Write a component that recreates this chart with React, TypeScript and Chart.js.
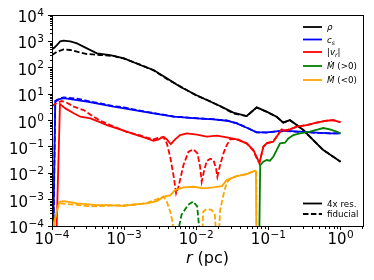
import React, { useEffect, useRef } from 'react';
import { Chart, registerables } from 'chart.js';

Chart.register(...registerables);

// ---- data ----
const rRho4x = [1.0e-4, 1.05e-4, 1.17e-4, 1.30e-4, 1.45e-4, 1.79e-4, 2.22e-4, 3.05e-4, 4.20e-4, 6.42e-4, 1.0e-3, 1.67e-3, 2.55e-3, 3.91e-3, 5.98e-3, 9.95e-3, 1.40e-2, 2.14e-2, 3.27e-2, 5.01e-2, 6.89e-2, 9.46e-2, 0.130, 0.161, 0.199, 0.247, 0.305, 0.419, 0.577, 0.793, 1.0];
const rho4x = [577, 545, 725, 1000, 1064, 1000, 841, 545, 352, 304, 227, 127, 82, 39.6, 19.1, 9.25, 5.97, 3.54, 1.98, 1.48, 3.15, 2.16, 1.39, 0.826, 1.04, 0.673, 0.435, 0.182, 0.0758, 0.0423, 0.0274];

const rRhoFid = [1.0e-4, 1.17e-4, 1.45e-4, 1.79e-4, 2.22e-4, 3.05e-4, 4.67e-4, 7.14e-4, 1.0e-3, 1.67e-3, 2.55e-3, 3.91e-3, 5.98e-3, 9.95e-3, 1.40e-2, 2.14e-2, 3.27e-2, 5.01e-2, 6.89e-2, 9.46e-2, 0.130, 0.161, 0.199, 0.247, 0.305, 0.419, 0.577, 0.793, 1.0];
const rhoFid = [304, 406, 499, 471, 406, 332, 304, 279, 221, 131, 80, 37.4, 19.8, 9.0, 6.1, 3.5, 1.86, 1.48, 3.1, 2.13, 1.39, 0.84, 1.03, 0.67, 0.435, 0.182, 0.0758, 0.0423, 0.0274];

const rCs4x = [1.03e-4, 1.11e-4, 1.24e-4, 1.45e-4, 2.22e-4, 3.05e-4, 4.67e-4, 7.14e-4, 1.0e-3, 1.67e-3, 2.55e-3, 4.83e-3, 9.95e-3, 1.73e-2, 2.65e-2, 3.64e-2, 5.01e-2, 6.89e-2, 9.46e-2, 0.161, 0.274, 0.466, 0.713, 1.0];
const cs4x = [1e-5, 5.16, 6.32, 7.1, 5.97, 5.16, 4.21, 3.34, 2.88, 2.28, 1.87, 1.39, 1.20, 1.10, 0.98, 0.778, 0.533, 0.355, 0.355, 0.41, 0.376, 0.344, 0.325, 0.325];

const rCsFid = [1.04e-4, 1.11e-4, 1.30e-4, 1.45e-4, 2.22e-4, 3.05e-4, 4.67e-4, 7.14e-4, 1.0e-3, 1.67e-3, 2.55e-3, 4.83e-3, 9.95e-3, 1.73e-2, 2.65e-2, 3.64e-2, 5.01e-2, 6.89e-2, 9.46e-2, 0.161, 0.274, 0.466, 0.713, 1.0];
const csFid = [1e-5, 5.64, 7.0, 7.53, 6.71, 5.6, 4.47, 3.5, 3.15, 2.35, 1.93, 1.42, 1.22, 1.12, 1.0, 0.79, 0.54, 0.355, 0.35, 0.40, 0.37, 0.34, 0.325, 0.325];

const rVr4x = [1.135e-4, 1.29e-4, 1.53e-4, 2.0e-4, 2.47e-4, 3.40e-4, 4.43e-4, 5.77e-4, 7.94e-4, 1.09e-3, 1.50e-3, 2.07e-3, 2.55e-3, 3.0e-3, 3.52e-3, 3.91e-3, 4.44e-3, 5.09e-3, 5.98e-3, 7.40e-3, 1.02e-2, 1.40e-2, 1.92e-2, 2.65e-2, 3.64e-2, 5.01e-2, 6.19e-2, 7.03e-2, 7.50e-2, 8.51e-2, 9.46e-2, 0.117, 0.130, 0.153, 0.170, 0.199, 0.247, 0.339, 0.466, 0.641, 0.793, 0.931, 1.0];
const vr4x = [1e-5, 4.2, 2.88, 1.87, 1.39, 1.20, 0.90, 0.673, 0.503, 0.376, 0.281, 0.210, 0.171, 0.192, 0.243, 0.192, 0.128, 0.192, 0.281, 0.325, 0.289, 0.243, 0.265, 0.229, 0.192, 0.136, 0.0758, 0.0366, 0.0237, 0.101, 0.136, 0.157, 0.243, 0.461, 0.41, 0.461, 0.582, 0.673, 0.826, 0.98, 1.04, 0.90, 0.89];

const rVrFid = [1.0e-4, 1.17e-4, 1.37e-4, 1.61e-4, 2.0e-4, 2.74e-4, 3.78e-4, 4.67e-4, 6.42e-4, 7.94e-4, 1.09e-3, 1.50e-3, 2.07e-3, 2.55e-3, 3.16e-3, 3.52e-3, 3.91e-3, 4.35e-3, 4.83e-3, 5.26e-3, 5.67e-3, 6.65e-3, 7.80e-3, 9.14e-3, 1.04e-2, 1.13e-2, 1.19e-2, 1.29e-2, 1.40e-2, 1.56e-2, 1.73e-2, 1.88e-2, 1.96e-2, 2.14e-2, 2.38e-2, 2.65e-2, 2.94e-2, 3.64e-2, 5.01e-2, 6.19e-2, 7.03e-2, 7.50e-2, 8.51e-2, 9.46e-2, 0.117, 0.130, 0.153, 0.170, 0.199, 0.247, 0.339, 0.466, 0.641, 0.793, 0.931, 1.0];
const vrFid = [3.54, 4.73, 5.47, 4.73, 3.34, 2.49, 1.39, 0.98, 0.673, 0.533, 0.365, 0.298, 0.223, 0.192, 0.229, 0.229, 0.136, 0.0423, 8.55e-3, 1.73e-3, 3.09e-3, 0.0205, 0.0656, 0.0804, 0.0566, 0.0177, 4.78e-3, 0.0132, 0.029, 0.0356, 0.0317, 0.0153, 7.38e-3, 0.0205, 0.0566, 0.117, 0.192, 0.2, 0.136, 0.0718, 0.033, 0.025, 0.101, 0.14, 0.16, 0.245, 0.455, 0.415, 0.465, 0.58, 0.67, 0.826, 0.98, 1.03, 0.90, 0.89];

const rMdotPos4x = [7.43e-2, 7.7e-2, 8.51e-2, 9.46e-2, 0.105, 0.117, 0.130, 0.145, 0.170, 0.189, 0.222, 0.274, 0.377, 0.492, 0.577, 0.713, 0.882, 1.0];
const mdotPos4x = [1e-5, 0.0205, 0.0274, 0.0317, 0.0299, 0.0423, 0.0758, 0.136, 0.144, 0.210, 0.281, 0.325, 0.376, 0.461, 0.518, 0.461, 0.376, 0.325];

const rMdotPosFid = [5.5e-3, 6.25e-3, 7.72e-3, 9.06e-3, 1.03e-2, 1.12e-2];
const mdotPosFid = [5e-5, 2.65e-4, 6.35e-4, 8.5e-4, 5.5e-4, 5e-5];

const rMdotNeg4x = [1.0e-4, 1.26e-4, 1.45e-4, 1.79e-4, 2.22e-4, 3.05e-4, 4.20e-4, 6.42e-4, 1.0e-3, 1.35e-3, 2.07e-3, 2.84e-3, 3.52e-3, 4.35e-3, 5.09e-3, 6.65e-3, 9.14e-3, 1.26e-2, 1.73e-2, 2.26e-2, 2.65e-2, 3.64e-2, 5.01e-2, 6.53e-2, 6.72e-2, 6.85e-2];
const mdotNeg4x = [7e-5, 8.3e-4, 8.8e-4, 8.1e-4, 7.2e-4, 6.8e-4, 6.2e-4, 6.2e-4, 5.7e-4, 6.6e-4, 7.2e-4, 8.8e-4, 1.29e-3, 1.45e-3, 2.31e-3, 2.91e-3, 3.08e-3, 2.67e-3, 2.91e-3, 3.27e-3, 5.52e-3, 7.83e-3, 9.33e-3, 0.0125, 0.0114, 1e-5];

const rMdotNegFid = [1.0e-4, 1.20e-4, 1.30e-4, 1.61e-4, 2.22e-4, 3.05e-4, 4.20e-4, 6.42e-4, 1.0e-3, 1.35e-3, 2.07e-3, 2.84e-3, 3.52e-3, 3.91e-3, 4.35e-3, 4.72e-3, 4.95e-3, 1.18e-2, 1.25e-2, 1.39e-2, 1.63e-2, 1.81e-2, 1.95e-2, 2.01e-2, 2.14e-2, 2.38e-2, 2.65e-2, 2.94e-2, 3.64e-2, 5.01e-2, 6.53e-2, 6.8e-2, 6.9e-2];
const mdotNegFid = [5e-5, 4.8e-4, 7.2e-4, 6.8e-4, 6.3e-4, 5.7e-4, 5.6e-4, 5.9e-4, 6.2e-4, 6.2e-4, 7.5e-4, 1.02e-3, 1.3e-3, 8.5e-4, 3.5e-4, 1.3e-4, 1e-5, 1e-5, 3.55e-4, 4.37e-4, 4.1e-4, 2.65e-4, 1e-5, 1e-5, 4e-4, 1.5e-3, 4.5e-3, 6.0e-3, 7.8e-3, 9.3e-3, 0.0123, 0.0112, 1e-5];

const xMajorTicks = [1e-4, 1e-3, 1e-2, 1e-1, 1];
const yMajorTicks = [1e-4, 1e-3, 1e-2, 1e-1, 1, 1e1, 1e2, 1e3, 1e4];
const xLimits = [1e-4, 2.05];
const yLimits = [1e-4, 1e4];
const xTitle = 'r (pc)';

const legendTop = [
  { color: '#000000', parts: [{ t: 'ρ', it: true }] },
  { color: '#0000ff', parts: [{ t: 'c', it: true }, { t: 's', it: true, sub: true }] },
  { color: '#ff0000', parts: [{ t: '|' }, { t: 'v', it: true }, { t: 'r', it: true, sub: true }, { t: '|' }] },
  { color: '#008000', parts: [{ t: 'Ṁ', it: true }, { t: ' (>0)' }] },
  { color: '#ffa500', parts: [{ t: 'Ṁ', it: true }, { t: ' (<0)' }] },
];
const legendBottom = [
  { label: '4x res.', dashed: false },
  { label: 'fiducial', dashed: true },
];

// ---- helpers ----
const FONT = '"DejaVu Sans", sans-serif';
function exponentText(v: number): string {
  const e = Math.round(Math.log10(v));
  return e < 0 ? '\u2212' + String(-e) : String(e);
}
function pts(r: number[], v: number[]) {
  const n = Math.min(r.length, v.length);
  const out: { x: number; y: number }[] = [];
  for (let i = 0; i < n; i++) out.push({ x: r[i], y: v[i] });
  return out;
}
const DASH = [5.5, 2.4];
const LW = 1.8;

function drawRich(ctx: CanvasRenderingContext2D, parts: any[], x: number, y: number, size: number) {
  let cx = x;
  for (const p of parts) {
    const s = p.sub ? size * 0.7 : size;
    ctx.font = `${p.it ? 'italic ' : ''}${s}px ${FONT}`;
    ctx.fillText(p.t, cx, y + (p.sub ? size * 0.28 : 0));
    cx += ctx.measureText(p.t).width;
  }
}

// draws "10" with a raised exponent; anchor: 'right' (y axis) or 'center' (x axis)
function drawPow(ctx: CanvasRenderingContext2D, v: number, x: number, baseline: number, anchor: string) {
  const base = '10';
  const ex = exponentText(v);
  ctx.font = `15px ${FONT}`;
  const wb = ctx.measureText(base).width;
  ctx.font = `10.5px ${FONT}`;
  const we = ctx.measureText(ex).width;
  const total = wb + we + 0.5;
  const x0 = anchor === 'right' ? x - total : x - total / 2;
  ctx.font = `15px ${FONT}`;
  ctx.fillText(base, x0, baseline);
  ctx.font = `10.5px ${FONT}`;
  ctx.fillText(ex, x0 + wb + 0.5, baseline - 6.5);
}

const decorPlugin = {
  id: 'decor',
  afterDraw(chart: any) {
    const ctx: CanvasRenderingContext2D = chart.ctx;
    const { left, right, top, bottom } = chart.chartArea;
    const xs = chart.scales.x;
    const ys = chart.scales.y;
    ctx.save();
    // frame
    ctx.strokeStyle = '#000';
    ctx.lineWidth = 1;
    ctx.setLineDash([]);
    ctx.strokeRect(Math.round(left) + 0.5, Math.round(top) + 0.5, Math.round(right - left), Math.round(bottom - top));
    // minor ticks
    ctx.beginPath();
    for (let d = -4; d <= 0; d++) {
      for (let k = 2; k <= 9; k++) {
        const v = k * Math.pow(10, d);
        if (v < xs.min || v > xs.max) continue;
        const px = Math.round(xs.getPixelForValue(v)) + 0.5;
        ctx.moveTo(px, Math.round(bottom) + 1);
        ctx.lineTo(px, Math.round(bottom) + 3);
      }
    }
    for (let d = -4; d <= 3; d++) {
      for (let k = 2; k <= 9; k++) {
        const v = k * Math.pow(10, d);
        if (v < ys.min || v > ys.max) continue;
        const py = Math.round(ys.getPixelForValue(v)) + 0.5;
        ctx.moveTo(Math.round(left), py);
        ctx.lineTo(Math.round(left) - 2, py);
      }
    }
    ctx.stroke();

    // tick labels
    ctx.fillStyle = '#000';
    ctx.textAlign = 'left';
    ctx.textBaseline = 'alphabetic';
    for (const v of xMajorTicks) {
      const px = xs.getPixelForValue(v);
      drawPow(ctx, v, px, bottom + 18, 'center');
    }
    for (const v of yMajorTicks) {
      const py = ys.getPixelForValue(v);
      drawPow(ctx, v, left - 8, py + 7, 'right');
    }

    // axis title (italic r)
    const [tVar, tRest] = [xTitle.slice(0, 1), xTitle.slice(1)];
    ctx.textBaseline = 'middle';
    ctx.font = `italic 16px ${FONT}`;
    const w1 = ctx.measureText(tVar).width;
    ctx.font = `16px ${FONT}`;
    const w2 = ctx.measureText(tRest).width;
    const cx = (left + right) / 2 - (w1 + w2) / 2;
    ctx.font = `italic 16px ${FONT}`;
    ctx.fillText(tVar, cx, 259);
    ctx.font = `16px ${FONT}`;
    ctx.fillText(tRest, cx + w1, 259);

    // legends
    const lx0 = right - 60;
    const lx1 = right - 41;
    const tx = right - 36;
    const size = 8.7;
    ctx.textBaseline = 'alphabetic';
    ctx.lineWidth = LW;
    const rowsTop = [27, 39.5, 52, 66, 80];
    legendTop.forEach((item, i) => {
      const y = rowsTop[i];
      ctx.strokeStyle = item.color;
      ctx.setLineDash([]);
      ctx.beginPath();
      ctx.moveTo(lx0, y);
      ctx.lineTo(lx1, y);
      ctx.stroke();
      ctx.fillStyle = '#000';
      drawRich(ctx, item.parts, tx, y + 3, size);
    });
    const rowsBottom = [203.5, 214];
    legendBottom.forEach((item, i) => {
      const y = rowsBottom[i];
      ctx.strokeStyle = '#000';
      ctx.setLineDash(item.dashed ? DASH : []);
      ctx.beginPath();
      ctx.moveTo(lx0, y);
      ctx.lineTo(lx1, y);
      ctx.stroke();
      ctx.setLineDash([]);
      ctx.fillStyle = '#000';
      ctx.font = `${size}px ${FONT}`;
      ctx.fillText(item.label, tx, y + 3);
    });
    ctx.restore();
  },
};

export default function App() {
  const ref = useRef<HTMLCanvasElement | null>(null);
  useEffect(() => {
    if (!ref.current) return;
    const series = [
      { r: rRho4x, v: rho4x, c: '#000000', d: false },
      { r: rRhoFid, v: rhoFid, c: '#000000', d: true },
      { r: rCs4x, v: cs4x, c: '#0000ff', d: false },
      { r: rCsFid, v: csFid, c: '#0000ff', d: true },
      { r: rVr4x, v: vr4x, c: '#ff0000', d: false },
      { r: rVrFid, v: vrFid, c: '#ff0000', d: true },
      { r: rMdotPos4x, v: mdotPos4x, c: '#008000', d: false },
      { r: rMdotPosFid, v: mdotPosFid, c: '#008000', d: true },
      { r: rMdotNeg4x, v: mdotNeg4x, c: '#ffa500', d: false },
      { r: rMdotNegFid, v: mdotNegFid, c: '#ffa500', d: true },
    ];
    const n = series.length;
    const datasets = series.map((s, i) => ({
      data: pts(s.r, s.v),
      borderColor: s.c,
      backgroundColor: s.c,
      borderWidth: LW,
      borderDash: s.d ? DASH : [],
      pointRadius: 0,
      tension: 0,
      fill: false,
      order: n - i,
    }));
    const chart = new Chart(ref.current, {
      type: 'line',
      data: { datasets },
      options: {
        responsive: false,
        animation: false,
        devicePixelRatio: 1,
        layout: { padding: { top: 15, right: 11, left: 0, bottom: 0 } },
        plugins: { legend: { display: false }, tooltip: { enabled: false }, title: { display: false } },
        scales: {
          x: {
            type: 'logarithmic',
            min: xLimits[0],
            max: xLimits[1],
            afterBuildTicks: (s: any) => {
              s.ticks = xMajorTicks.map((v) => ({ value: v }));
            },
            afterFit: (s: any) => {
              s.height = 54;
            },
            ticks: { display: false, autoSkip: false, maxRotation: 0, minRotation: 0 },
            grid: { display: true, drawOnChartArea: false, drawTicks: true, tickLength: 4, color: '#000', lineWidth: 1 },
            border: { display: true, color: '#000', width: 1 },
          },
          y: {
            type: 'logarithmic',
            min: yLimits[0],
            max: yLimits[1],
            afterBuildTicks: (s: any) => {
              s.ticks = yMajorTicks.map((v) => ({ value: v }));
            },
            afterFit: (s: any) => {
              s.width = 52;
            },
            ticks: { display: false, autoSkip: false },
            grid: { display: true, drawOnChartArea: false, drawTicks: true, tickLength: 4, color: '#000', lineWidth: 1 },
            border: { display: true, color: '#000', width: 1 },
          },
        },
      },
      plugins: [decorPlugin],
    } as any);
    return () => chart.destroy();
  }, []);
  return (
    <div style={{ position: 'fixed', left: 0, top: 0, width: 374, height: 280, background: '#fff' }}>
      <canvas ref={ref} width={374} height={280} style={{ display: 'block', width: 374, height: 280 }} />
    </div>
  );
}
